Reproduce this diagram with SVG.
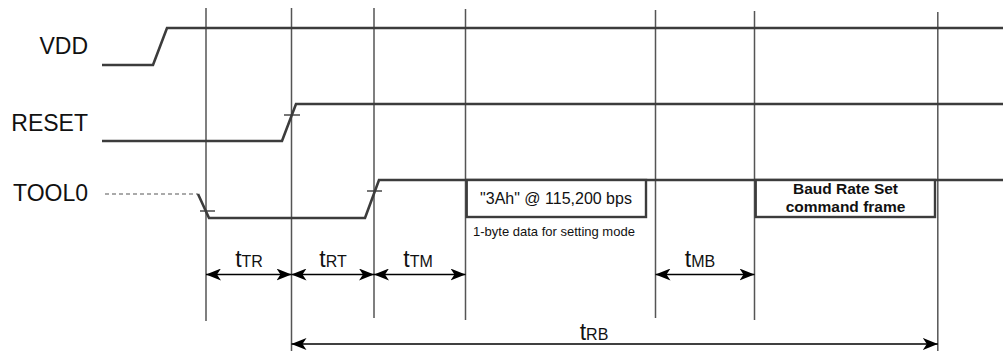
<svg xmlns="http://www.w3.org/2000/svg" width="1003" height="351" viewBox="0 0 1003 351">
<style>
.lbl{font-family:"Liberation Sans",Arial,sans-serif;font-size:23px;fill:#111;text-anchor:end}
.sig{fill:none;stroke:#3c3c3c;stroke-width:2.6;stroke-linejoin:miter}
.tick{stroke:#3c3c3c;stroke-width:1.4}
.guide{stroke:#555;stroke-width:1.5}
.dim{stroke:#000;stroke-width:1.5;fill:none;marker-start:url(#ah);marker-end:url(#ah)}
.box{fill:#fff;stroke:#3c3c3c;stroke-width:2.4}
.bt{font-family:"Liberation Sans",Arial,sans-serif;font-size:16px;fill:#111;text-anchor:middle}
.bb{font-family:"Liberation Sans",Arial,sans-serif;font-size:15.5px;font-weight:bold;fill:#111;text-anchor:middle}
.note{font-family:"Liberation Sans",Arial,sans-serif;font-size:13px;fill:#111}
.tl{font-family:"Liberation Sans",Arial,sans-serif;font-size:23px;fill:#111;text-anchor:middle}
.sub{font-size:16px}
</style>
<defs>
<marker id="ah" markerUnits="userSpaceOnUse" markerWidth="15" markerHeight="12" refX="15" refY="6" orient="auto-start-reverse" viewBox="0 0 15 12">
<path d="M0,0 L15,6 L0,12 L4,6 z" fill="#000"/>
</marker>
</defs>
<g id="guides">
<line class="guide" x1="206" y1="8" x2="206" y2="321"/>
<line class="guide" x1="291.5" y1="8" x2="291.5" y2="351"/>
<line class="guide" x1="374" y1="8" x2="374" y2="318"/>
<line class="guide" x1="465.5" y1="9" x2="465.5" y2="320"/>
<line class="guide" x1="655.5" y1="10" x2="655.5" y2="318"/>
<line class="guide" x1="754.5" y1="11" x2="754.5" y2="320"/>
<line class="guide" x1="937.8" y1="12" x2="937.8" y2="351"/>
</g>
<g id="vdd">
<text class="lbl" x="88" y="54">VDD</text>
<polyline class="sig" points="102,65 153,65 167,28 1003,28"/>
</g>
<g id="reset">
<text class="lbl" x="88" y="131">RESET</text>
<polyline class="sig" points="102,141 282,141 296,104 1003,104"/>
<line class="tick" x1="284" y1="115" x2="300" y2="115"/>
</g>
<g id="tool0">
<text class="lbl" x="88" y="201">TOOL0</text>
<line x1="105" y1="194" x2="198" y2="194" stroke="#aaa" stroke-width="2" stroke-dasharray="4,3"/>
<polyline class="sig" points="198,194 209,218 365,218 379,180 1003,180"/>
<line class="tick" x1="200" y1="211" x2="215" y2="211"/>
<line class="tick" x1="367" y1="191" x2="382" y2="191"/>
</g>
<g id="box-3ah">
<rect class="box" x="466.7" y="180" width="179.3" height="37"/>
<text class="bt" x="556" y="204">"3Ah" @ 115,200 bps</text>
<text class="note" x="473" y="236">1-byte data for setting mode</text>
</g>
<g id="box-baud">
<rect class="box" x="755.7" y="180" width="179.3" height="37"/>
<text class="bb" x="845.5" y="194">Baud Rate Set</text>
<text class="bb" x="845.5" y="212">command frame</text>
</g>
<g id="connectors">
<line class="dim" x1="206" y1="274.5" x2="291.5" y2="274.5"/>
<line class="dim" x1="291.5" y1="274.5" x2="374" y2="274.5"/>
<line class="dim" x1="374" y1="274.5" x2="465.5" y2="274.5"/>
<line class="dim" x1="655.5" y1="274.5" x2="754.5" y2="274.5"/>
<line class="dim" x1="291.5" y1="344" x2="937.8" y2="344"/>
</g>
<g id="labels">
<text class="tl" x="249" y="267">t<tspan class="sub">TR</tspan></text>
<text class="tl" x="333" y="267">t<tspan class="sub">RT</tspan></text>
<text class="tl" x="418" y="267">t<tspan class="sub">TM</tspan></text>
<text class="tl" x="700" y="267">t<tspan class="sub">MB</tspan></text>
<text class="tl" x="594" y="340">t<tspan class="sub">RB</tspan></text>
</g>
</svg>
